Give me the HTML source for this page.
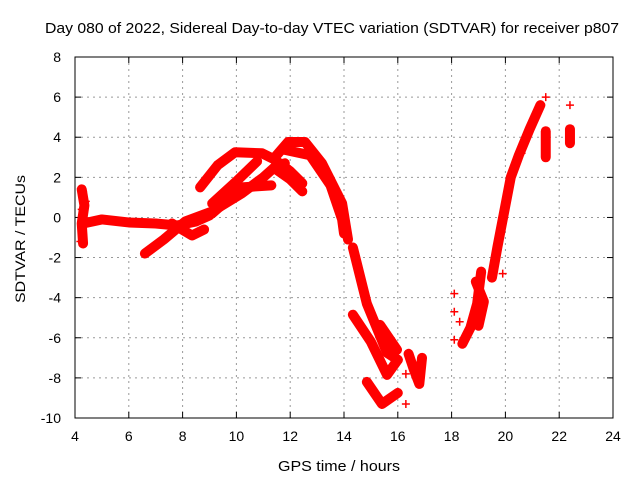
<!DOCTYPE html>
<html><head><meta charset="utf-8"><style>
html,body{margin:0;padding:0;background:#fff}
svg{display:block;font-family:"Liberation Sans",sans-serif}
</style></head><body>
<svg id="chart" width="640" height="480" viewBox="0 0 640 480">
<rect width="640" height="480" fill="#fff"/>
<text x="332" y="33" text-anchor="middle" font-size="15" textLength="574" lengthAdjust="spacingAndGlyphs">Day 080 of 2022, Sidereal Day-to-day VTEC variation (SDTVAR) for receiver p807</text>
<text x="339" y="471" text-anchor="middle" font-size="15" textLength="122" lengthAdjust="spacingAndGlyphs">GPS time / hours</text>
<text x="25" y="239" text-anchor="middle" font-size="14" transform="rotate(-90 25 239)" textLength="128" lengthAdjust="spacingAndGlyphs">SDTVAR / TECUs</text>
<g id="grid"></g><g id="ticks"></g><g id="marks"></g>
<rect x="75" y="57" width="538" height="361" fill="none" stroke="#000" stroke-width="1"/>
</svg>
<script>
const xTicks=[4,6,8,10,12,14,16,18,20,22,24];
const yTicks=[-10,-8,-6,-4,-2,0,2,4,6,8];
const trackFirst=[[4.25,1.4],[4.35,0.6],[4.25,-0.3],[4.3,-1.3]];
const trackStart=[[4.3,-0.3],[5,-0.1],[6,-0.25],[7,-0.3],[7.8,-0.4],[8.5,-0.2],[9,0.1]];
const trackRiseLow=[[6.6,-1.8],[7.3,-1.1],[8.1,-0.2],[9.1,0.3],[10.2,1.2],[11,2],[11.5,2.6],[11.8,2.7]];
const trackLoop=[[7.6,-0.3],[8.35,-0.9],[8.8,-0.6]];
const trackUpper=[[8.65,1.5],[9.3,2.6],[9.95,3.25],[10.95,3.2],[11.4,2.9],[12,2.3],[12.45,1.7]];
const trackMid=[[9.1,0.7],[10,1.8],[10.77,2.8]];
const trackLow=[[8.1,-0.3],[9.1,0.2],[10.2,1.5],[11.3,1.6]];
const trackLate=[[11.4,2.47],[12,1.9],[12.45,1.3]];
const trackPeakA=[[11.43,3.0],[11.92,3.76],[12.55,3.76],[13.18,2.7],[13.93,0.7],[14.15,-1.1]];
const trackPeakB=[[11.7,3.4],[12.74,3.1],[13.5,1.6],[13.93,-0.1],[14.0,-0.8]];
const trackDescA=[[14.33,-1.5],[14.85,-4.3],[15.6,-6.75],[16.0,-7.1]];
const trackDescB=[[14.33,-4.85],[15.0,-6.2],[15.6,-7.85],[16.0,-7.1]];
const trackDescC=[[15.34,-5.36],[15.97,-6.6]];
const trackBottom=[[14.85,-8.2],[15.41,-9.3],[16.0,-8.75]];
const trackLateNight=[[16.4,-6.8],[16.6,-7.6],[16.8,-8.3],[16.9,-7.0]];
const trackDawnA=[[18.4,-6.3],[18.7,-5.5],[18.95,-4.3],[19.1,-2.7]];
const trackDawnB=[[18.9,-3.2],[19.2,-4.2],[19.0,-5.4]];
const trackDawnC=[[19.5,-3],[19.7,-1.5],[19.9,-0.1],[20.2,2.0],[20.5,3.1],[20.9,4.4],[21.3,5.6]];
const trackEnd1=[[21.5,4.3],[21.5,3.0]];
const trackEnd2=[[22.4,4.4],[22.4,3.7]];
const isolated=[[4.3,1.3],[4.4,0.8],[4.2,-1.2],[4.25,0.4],[18.1,-3.8],[18.1,-4.7],[18.1,-6.1],[18.3,-5.2],[16.3,-7.8],[16.3,-9.3],[21.5,6.0],[22.4,5.6],[20.6,3.2],[19.9,-2.8]];
const tracks=[trackFirst,trackStart,trackRiseLow,trackLoop,trackUpper,trackMid,trackLow,trackLate,trackPeakA,trackPeakB,trackDescA,trackDescB,trackDescC,trackBottom,trackLateNight,trackDawnA,trackDawnB,trackDawnC,trackEnd1,trackEnd2];
const X0=75,X1=613,Y0=418,Y1=57;
const sx=h=>X0+(h-4)/20*(X1-X0);
const sy=v=>Y0-(v+10)/18*(Y0-Y1);
const NS="http://www.w3.org/2000/svg";
const grid=document.getElementById('grid'),ticks=document.getElementById('ticks'),marks=document.getElementById('marks');
function mk(tag,attrs,parent){const e=document.createElementNS(NS,tag);for(const k in attrs)e.setAttribute(k,attrs[k]);parent.appendChild(e);return e;}
xTicks.forEach(t=>{const x=sx(t);
 if(t>4&&t<24){const g=mk('line',{x1:x,x2:x,y1:Y1,y2:Y0,stroke:'#999','stroke-dasharray':'2,4'},grid);
 
 }
 mk('line',{x1:x,x2:x,y1:Y0,y2:Y0-6,stroke:'#000'},ticks);
 mk('line',{x1:x,x2:x,y1:Y1,y2:Y1+6,stroke:'#000'},ticks);
 const l=mk('text',{x:x,y:Y0+23,'text-anchor':'middle','font-size':14},ticks);l.textContent=t;
 
 });
yTicks.forEach(t=>{const y=sy(t);
 if(t>-10&&t<8){const g=mk('line',{x1:X0,x2:X1,y1:y,y2:y,stroke:'#999','stroke-dasharray':'2,4'},grid);
 
 }
 mk('line',{x1:X0,x2:X0+6,y1:y,y2:y,stroke:'#000'},ticks);
 mk('line',{x1:X1,x2:X1-6,y1:y,y2:y,stroke:'#000'},ticks);
 const l=mk('text',{x:X0-14,y:y+5,'text-anchor':'end','font-size':14},ticks);l.textContent=t;
 
 });
function plus(h,v){const x=sx(h),y=sy(v);
 const p=mk('path',{d:`M${x-4} ${y}H${x+4}M${x} ${y-4}V${y+4}`,stroke:'#f00','stroke-width':1.5},marks);
 
 }
tracks.forEach(tr=>{
 const pl=mk('polyline',{points:tr.map(p=>sx(p[0])+','+sy(p[1])).join(' '),fill:'none',stroke:'#f00','stroke-width':10,'stroke-linejoin':'round','stroke-linecap':'round'},marks);
 
 
 tr.forEach(p=>plus(p[0],p[1]));});
isolated.forEach(p=>plus(p[0],p[1]));
</script>
</body></html>
